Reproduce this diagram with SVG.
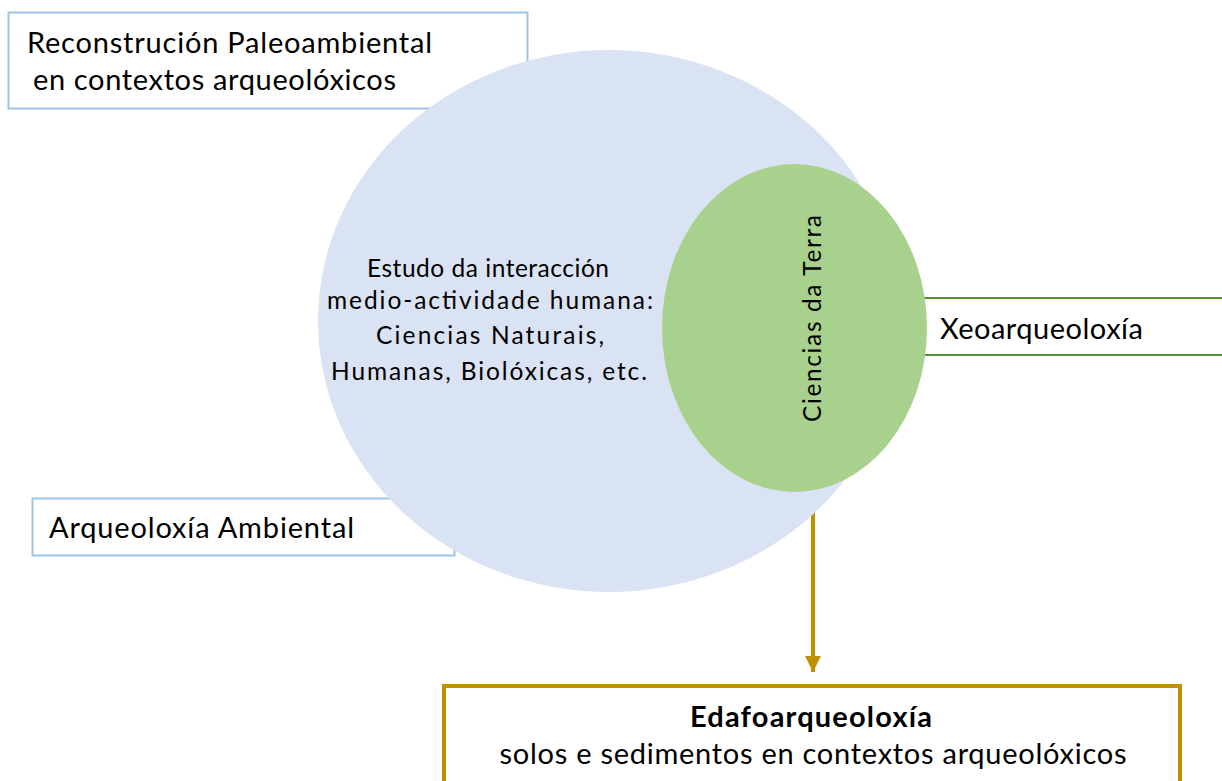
<svg xmlns="http://www.w3.org/2000/svg" width="1222" height="781" viewBox="0 0 1222 781">
<style>
.t{font-family:Lato,"Liberation Sans",sans-serif;fill:#000;}
.lbl{font-size:29px;}
.ctr{font-size:24.5px;text-anchor:middle;}
.box{fill:#fff;stroke:#9DC3E6;stroke-width:2;}
</style>
<defs>
<marker id="ah" markerWidth="4" markerHeight="4" refX="4" refY="2" orient="auto" markerUnits="strokeWidth">
<path d="M0,0 L4,2 L0,4 Z" fill="#BF9000"/>
</marker>
</defs>
<rect width="1222" height="781" fill="#fff"/>
<g id="reconstrucion">
<rect class="box" x="8.5" y="12.5" width="519" height="96"/>
<text class="t lbl" x="27" y="53" textLength="405" lengthAdjust="spacing">Reconstrución  Paleoambiental</text>
<text class="t lbl" x="33" y="90" textLength="363" lengthAdjust="spacing">en contextos arqueolóxicos</text>
</g>
<g id="arqueoloxia-ambiental">
<rect class="box" x="32.5" y="498.5" width="422" height="57"/>
<text class="t lbl" x="49" y="538" textLength="305" lengthAdjust="spacing">Arqueoloxía  Ambiental</text>
</g>
<g id="connectors">
<line x1="910" y1="298" x2="1222" y2="298" stroke="#5A8F3A" stroke-width="2"/>
<line x1="910" y1="355" x2="1222" y2="355" stroke="#5A8F3A" stroke-width="2"/>
<line x1="813" y1="480" x2="813" y2="672" stroke="#BF9000" stroke-width="4" marker-end="url(#ah)"/>
</g>
<g id="estudo">
<ellipse cx="609" cy="321" rx="291" ry="271" fill="#DAE3F3"/>
<text class="t ctr" x="488" y="277" textLength="242" lengthAdjust="spacing">Estudo da interacción</text>
<text class="t ctr" x="490" y="309" textLength="326" lengthAdjust="spacing">medio-actividade humana:</text>
<text class="t ctr" x="490" y="344" textLength="228" lengthAdjust="spacing">Ciencias Naturais,</text>
<text class="t ctr" x="489" y="380" textLength="316" lengthAdjust="spacing">Humanas, Biolóxicas, etc.</text>
</g>
<g id="ciencias-terra">
<ellipse cx="794.5" cy="328" rx="132.5" ry="164" fill="#A9D18E"/>
<text class="t ctr" transform="translate(821,318.5) rotate(-90)" textLength="207" lengthAdjust="spacing">Ciencias da Terra</text>
</g>
<g id="xeoarqueoloxia">
<text class="t lbl" x="940" y="339" textLength="203" lengthAdjust="spacing">Xeoarqueoloxía</text>
</g>
<g id="edafoarqueoloxia">
<rect x="444" y="686" width="736" height="110" fill="#fff" stroke="#BF9000" stroke-width="4"/>
<text class="t lbl" x="811" y="727" text-anchor="middle" font-weight="bold" textLength="242" lengthAdjust="spacing">Edafoarqueoloxía</text>
<text class="t lbl" x="813" y="764" text-anchor="middle" textLength="627" lengthAdjust="spacing">solos e sedimentos en contextos arqueolóxicos</text>
</g>
</svg>
